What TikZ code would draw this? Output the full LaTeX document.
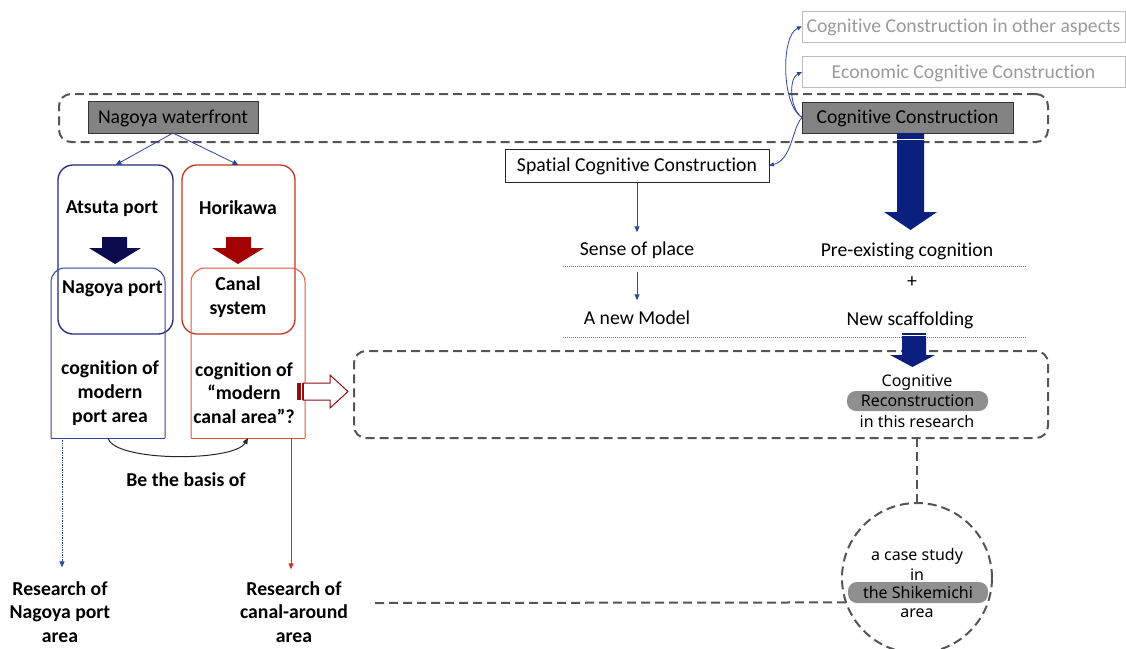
\documentclass[tikz,border=0pt]{standalone}
\usepackage{fontspec}
\setmainfont{Carlito}[Ligatures={NoCommon,NoContextual,NoRare}]
\newfontfamily\gothic{Noto Sans}
\usetikzlibrary{arrows.meta,calc}

\definecolor{navy}{HTML}{1F2A80}
\definecolor{linkblue}{HTML}{2B45A0}
\definecolor{deepnavy}{HTML}{0B0B4E}
\definecolor{arrownavy}{HTML}{0B1F7E}
\definecolor{boxred}{HTML}{C8341F}
\definecolor{lightred}{HTML}{E0553A}
\definecolor{arrowred}{HTML}{A30000}
\definecolor{hollowred}{HTML}{8E1010}
\definecolor{dashgray}{HTML}{555555}
\definecolor{fillgray}{HTML}{838383}
\definecolor{pillgray}{HTML}{8F8F8F}
\definecolor{faintgray}{HTML}{9A9A9A}
\definecolor{faintframe}{HTML}{BDBDBD}
\definecolor{dotblue}{HTML}{5570C8}

\begin{document}
\begin{tikzpicture}[x=1pt,y=-1pt,
  every node/.style={inner sep=0pt, outer sep=0pt},
  lbl/.style={font=\fontsize{19.7}{23.7}\selectfont, align=center},
  blbl/.style={font=\fontsize{19.7}{23.7}\selectfont\bfseries, align=center},
  one/.style={text height=17pt, text depth=4.5pt},
  glbl/.style={font=\gothic\fontsize{16}{19.5}\selectfont, align=center},
  graybox/.style={draw=black!80, fill=fillgray, line width=1pt},
  faintbox/.style={draw=faintframe, line width=1pt, text=faintgray},
  whitebox/.style={draw=black!85, fill=white, line width=1pt},
  groupdash/.style={draw=dashgray, line width=2pt, dash pattern=on 9pt off 5pt, rounded corners=12pt},
  linkdash/.style={draw=dashgray, line width=2pt, dash pattern=on 9pt off 5pt},
  tip/.style={-{Triangle[length=6pt,width=5pt]}},
  thinlink/.style={draw=linkblue, line width=0.8pt, tip},
  sepline/.style={draw=dotblue, line width=0.8pt, dash pattern=on 1pt off 1pt},
  pill/.style={fill=pillgray, rounded corners=9pt},
]
\useasboundingbox (0,0) rectangle (1126,648);

% dashed groups
\node[groupdash, minimum width=989pt, minimum height=48pt] (band) at (553.5,118) {};
\node[groupdash, minimum width=694pt, minimum height=87pt] (recbox) at (701,394.5) {};

% top row
\node[graybox, lbl, one, minimum width=170pt, minimum height=32pt] (wf) at (173,117) {Nagoya waterfront};
\node[graybox, lbl, one, minimum width=211pt, minimum height=31pt] (cc) at (907.5,117.5) {Cognitive Construction};
\node[faintbox, lbl, one, minimum width=323pt, minimum height=31pt] (other) at (963.5,26.5) {Cognitive Construction in other aspects};
\node[faintbox, lbl, one, minimum width=323pt, minimum height=31pt] (econ) at (963.5,72) {Economic Cognitive Construction};
\node[whitebox, lbl, one, minimum width=264pt, minimum height=33pt] (spatial) at (637,165.5) {Spatial Cognitive Construction};

\draw[thinlink, -{Triangle[length=5pt,width=4pt]}] (cc.west) .. controls (781,105) and (781,35) .. (other.west);
\draw[thinlink, -{Triangle[length=5pt,width=4pt]}] (cc.west) .. controls (789,108) and (789,78) .. (econ.west);
\draw[thinlink, -{Triangle[length=5pt,width=4pt]}] (cc.west) .. controls (792,128) and (792,160) .. (spatial.east);

% left column: outer frames
\node[draw=navy, line width=1.3pt, rounded corners=15pt, minimum width=115pt, minimum height=169pt] (atsbox) at (115.5,249.5) {};
\node[draw=boxred, line width=1.3pt, rounded corners=15pt, minimum width=113pt, minimum height=169pt] (horbox) at (238.5,249.5) {};
\draw[thinlink] (wf.south) -- (atsbox.north);
\draw[thinlink] (wf.south) -- (horbox.north);

\node[blbl, one] (ats) at (112,207) {Atsuta port};
\node[blbl, one] (hor) at (238,208) {Horikawa};

\fill[deepnavy] (102,237) -- (127,237) -- (127,248) -- (141,248) -- (115,264) -- (89,248) -- (102,248) -- cycle;
\fill[arrowred] (226,237) -- (251,237) -- (251,248) -- (264,248) -- (238,264) -- (212,248) -- (226,248) -- cycle;

% left column: inner frames with rounded tops
\node[minimum width=114pt, minimum height=170pt] (npbox) at (108,353) {};
\draw[linkblue, line width=1pt, rounded corners=14pt] (npbox.south west) -- (npbox.north west) -- (npbox.north east) -- (npbox.south east);
\draw[linkblue, line width=1pt] (npbox.south west) -- (npbox.south east);
\node[minimum width=114pt, minimum height=170pt] (cbox) at (248,353) {};
\draw[lightred, line width=1pt, rounded corners=14pt] (cbox.south west) -- (cbox.north west) -- (cbox.north east) -- (cbox.south east);
\draw[lightred, line width=1pt] (cbox.south west) -- (cbox.south east);

\node[blbl, one] (np) at (112.5,287) {Nagoya port};
\node[blbl] (canal) at (238,297) {Canal\\system};
\node[blbl] (cogp) at (110,393) {cognition of\\modern\\port area};
\node[blbl] (cogc) at (244,393) {cognition of\\“modern\\canal area”?};

\draw[black!85, line width=1pt, tip] (npbox.south) .. controls +(6,24) and +(-14,24) .. (cbox.south);
\node[blbl, one] (basis) at (186,480) {Be the basis of};

\node[blbl] (resNP) at (60,612) {Research of\\Nagoya port\\area};
\node[blbl] (resC) at (294,612) {Research of\\canal-around\\area};

\draw[linkblue, line width=0.9pt, dash pattern=on 1pt off 0.7pt, tip, shorten >=14pt]
  ([xshift=11pt]npbox.south west) -- ([xshift=11pt]npbox.south west |- resNP.north);
\draw[boxred, line width=0.9pt, tip, shorten >=12pt]
  ([xshift=-14pt]cbox.south east) -- ([xshift=-14pt]cbox.south east |- resC.north);

% hollow arrow towards the reconstruction group
\draw[hollowred, fill=white, line width=1pt] (303,383) -- (330,383) -- (330,375) -- (348,391.5) -- (330,408) -- (330,400) -- (303,400) -- cycle;
\fill[hollowred] (297,383) rectangle (301,400);
\fill[hollowred] (302,383) rectangle (303.5,400);

% right column
\draw[sepline] (563,266) -- (1027,266);
\draw[sepline] (563,337.5) -- (1027,337.5);

\node[lbl, one] (sense) at (637,249) {Sense of place};
\node[lbl, one] (model) at (637,318) {A new Model};
\node[lbl, one] (pre) at (907,250) {Pre-existing cognition};
\node[lbl, one] (plus) at (912,281) {+};
\node[lbl, one] (scaff) at (910,319) {New scaffolding};

\draw[thinlink, shorten >=6pt] (spatial.south) -- (sense.north);
\draw[thinlink, shorten <=12pt, shorten >=7pt] (sense.south) -- (model.north);

\fill[arrownavy] (897,133) -- (924,133) -- (924,212) -- (937,212) -- (910.5,230) -- (884,212) -- (897,212) -- cycle;
\draw[white, line width=0.6pt] (897,139) -- (924,139);
\fill[arrownavy] (902,333) -- (926,333) -- (926,355) -- (935,355) -- (912.5,367) -- (890,355) -- (902,355) -- cycle;
\draw[white, line width=0.6pt] (902,335.5) -- (926,335.5);

\node[glbl] (cog) at (917,383) {Cognitive};
\node[glbl, pill, minimum width=141pt, minimum height=20pt] (recon) at (917.5,401) {Reconstruction};
\node[glbl] (inthis) at (917,421) {in this research};

% case study
\node[circle, draw=dashgray, line width=2pt, dash pattern=on 9pt off 5pt, minimum size=150pt] (circ) at (917,578) {};
\node[glbl] (case) at (917,556) {a case study};
\node[glbl] (inw) at (917,575) {in};
\node[glbl, pill, minimum width=140pt, minimum height=21pt] (shike) at (918,592.5) {the Shikemichi};
\node[glbl] (area) at (917,613) {area};

\coordinate (dstart) at (375,603);
\draw[linkdash] (recbox.south -| circ.north) -- (circ.north);
\draw[linkdash] (dstart) -- (circ.199.5);
\end{tikzpicture}
\end{document}
